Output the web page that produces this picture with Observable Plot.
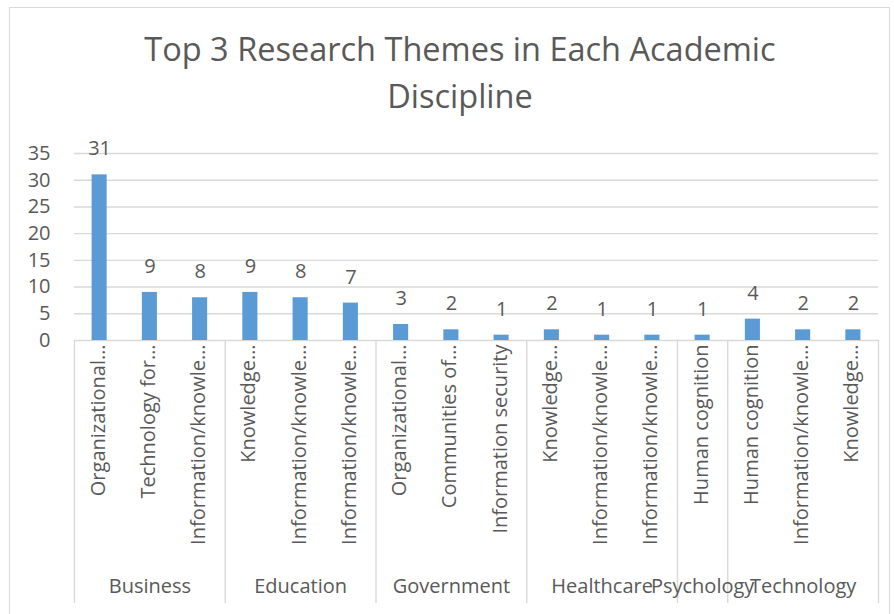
<!DOCTYPE html>
<html>
<head>
<meta charset="utf-8">
<script src="https://cdn.jsdelivr.net/npm/d3@7"></script>
<script src="https://cdn.jsdelivr.net/npm/@observablehq/plot@0.6"></script>
<style>
  html, body { margin: 0; padding: 0; background: #fff; }
  #wrap { position: relative; width: 894px; height: 614px; overflow: hidden; font-family: "Open Sans", sans-serif; }
  #border { position: absolute; left: 9px; top: 7px; width: 881px; height: 620px; border: 1.5px solid #d9d9d9; box-sizing: border-box; }
  #title { position: absolute; left: 60px; width: 800px; top: 25px; text-align: center; color: #595959; font-size: 32.5px; line-height: 47px; }
  #plot { position: absolute; left: 0; top: 130px; }
</style>
</head>
<body>
<div id="wrap">
  <div id="border"></div>
  <div id="title">Top 3 Research Themes in Each Academic<br>Discipline</div>
  <div id="plot"></div>
</div>
<script>
const disciplines = ["Business","Business","Business","Education","Education","Education","Government","Government","Government","Healthcare","Healthcare","Healthcare","Psychology","Technology","Technology","Technology"];
const themes = ["Organizational…","Technology for…","Information/knowle…","Knowledge…","Information/knowle…","Information/knowle…","Organizational…","Communities of…","Information security","Knowledge…","Information/knowle…","Information/knowle…","Human cognition","Human cognition","Information/knowle…","Knowledge…"];
const counts = [31, 9, 8, 9, 8, 7, 3, 2, 1, 2, 1, 1, 1, 4, 2, 2];
const yTicks = [0, 5, 10, 15, 20, 25, 30, 35];

const data = counts.map((v, i) => ({i, value: v, theme: themes[i], discipline: disciplines[i]}));

// group structure derived from the data
const groupNames = [...new Set(disciplines)];
const groups = groupNames.map(name => {
  const idx = data.filter(d => d.discipline === name).map(d => d.i);
  return {name, center: d3.mean(idx), start: d3.min(idx) - 0.5, end: d3.max(idx) + 0.5};
});
const bounds = [...new Set(groups.flatMap(g => [g.start, g.end]))];

const n = data.length;
const grey = "#595959";
const chart = Plot.plot({
  width: 894,
  height: 484,
  marginLeft: 74,
  marginRight: 16,
  marginTop: 23,
  marginBottom: 274,
  style: {fontFamily: "'Open Sans', sans-serif", color: grey, background: "transparent"},
  x: {domain: [-0.5, n - 0.5], axis: null},
  y: {domain: [0, 35], axis: null},
  marks: [
    Plot.gridY(yTicks, {stroke: "#d9d9d9", strokeOpacity: 1, strokeWidth: 1.4}),
    Plot.axisY(yTicks, {tickSize: 0, tickPadding: 24, fontSize: 20, fill: grey, label: null}),
    Plot.rectY(data, {x1: d => d.i - 0.15, x2: d => d.i + 0.15, y: "value", fill: "#5b9bd5"}),
    Plot.text(data, {x: "i", y: "value", text: d => String(d.value), dy: -26, fontSize: 20, fill: grey}),
    Plot.ruleX(bounds, {stroke: "#d9d9d9", strokeWidth: 1.4, insetTop: 187, insetBottom: -263}),
    Plot.text(data, {x: "i", frameAnchor: "bottom", text: "theme", rotate: -90, textAnchor: "end", dx: 5, dy: 4, fontSize: 20, fill: grey}),
    Plot.text(groups, {x: "center", frameAnchor: "bottom", text: "name", dy: 252, fontSize: 20, fill: grey})
  ]
});
document.getElementById("plot").appendChild(chart);
</script>
</body>
</html>
